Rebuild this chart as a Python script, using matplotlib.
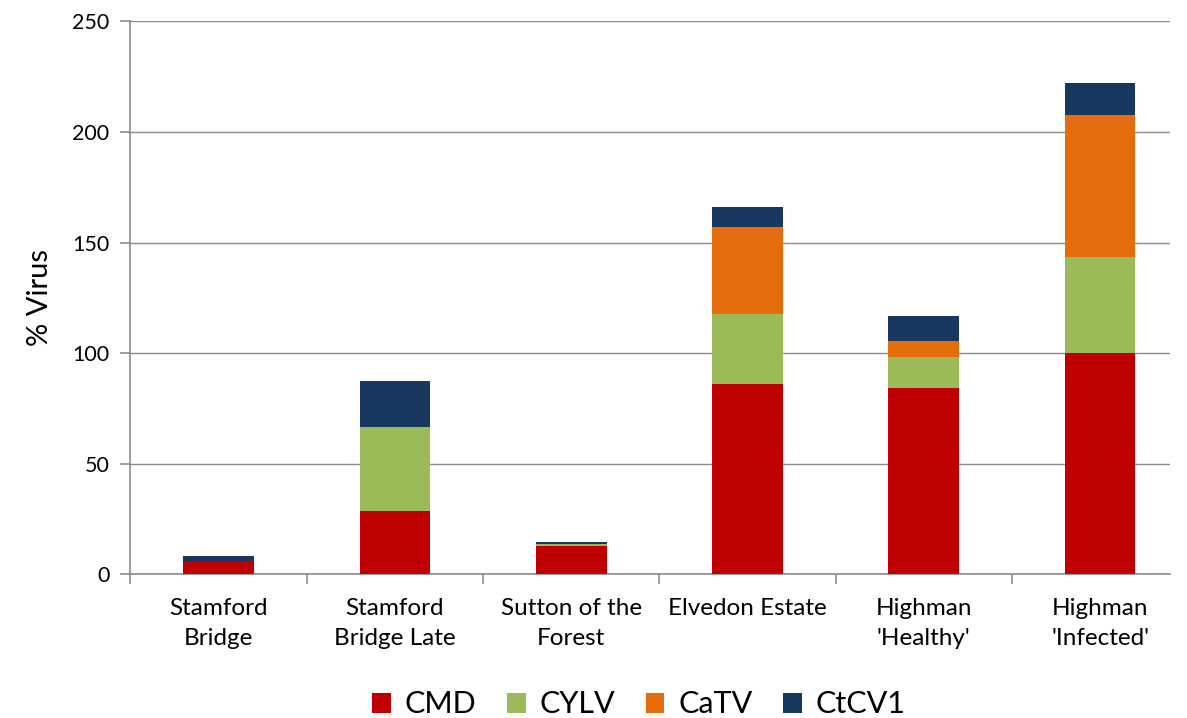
import numpy as np
import matplotlib
matplotlib.use("Agg")
import matplotlib.pyplot as plt

plt.rcParams['font.family'] = ['Lato', 'DejaVu Sans']

sites = ["Stamford\nBridge", "Stamford\nBridge Late", "Sutton of the\nForest",
         "Elvedon Estate", "Highman\n'Healthy'", "Highman\n'Infected'"]
cmd = [6.2, 28.5, 12.7, 85.9, 84.1, 100.0]
cylv = [0.0, 38.0, 0.9, 31.6, 14.0, 43.3]
catv = [0.0, 0.0, 0.0, 39.4, 7.2, 64.2]
ctcv1 = [2.1, 20.8, 0.8, 9.0, 11.3, 14.9]

series = [("CMD", cmd, "#C00000"), ("CYLV", cylv, "#9BBB59"),
          ("CaTV", catv, "#E46C0A"), ("CtCV1", ctcv1, "#17375E")]

fig = plt.figure(figsize=(11.87, 7.18), dpi=100)
ax = fig.add_axes([0.1099, 0.2001, 0.8758, 0.770])

x = np.arange(len(sites))
bottom = np.zeros(len(sites))
for name, vals, col in series:
    ax.bar(x, vals, 0.401, bottom=bottom, color=col, label=name, zorder=3)
    bottom += np.array(vals)

ax.set_xlim(-0.5, 5.397)
ax.set_ylim(0, 250)
ax.set_yticks(range(0, 251, 50))
ax.yaxis.grid(True, color="#8c8c8c", linewidth=1, zorder=0)
for s in ["top", "right"]:
    ax.spines[s].set_visible(False)
for s in ["left", "bottom"]:
    ax.spines[s].set_color("#8c8c8c")
    ax.spines[s].set_linewidth(1.2)

ax.set_xticks(x)
ax.set_xticklabels(sites, fontsize=17.5, linespacing=1.55)
ax.tick_params(axis="x", length=0, pad=17)
ax.set_xticks(np.arange(-0.5, len(sites) - 0.6, 1), minor=True)
ax.tick_params(axis="x", which="minor", length=7, color="#8c8c8c", width=1.2)
ax.tick_params(axis="y", labelsize=15.5, length=7, color="#8c8c8c", width=1.2, pad=8)
ax.set_ylabel("% Virus", fontsize=21, labelpad=14)

fig.legend(loc="center", bbox_to_anchor=(0.538, 0.019), ncol=4, frameon=False,
           fontsize=22, handlelength=0.62, handleheight=0.62, handletextpad=0.45,
           columnspacing=1.0, borderpad=0)

fig.savefig("out.png", dpi=100)
